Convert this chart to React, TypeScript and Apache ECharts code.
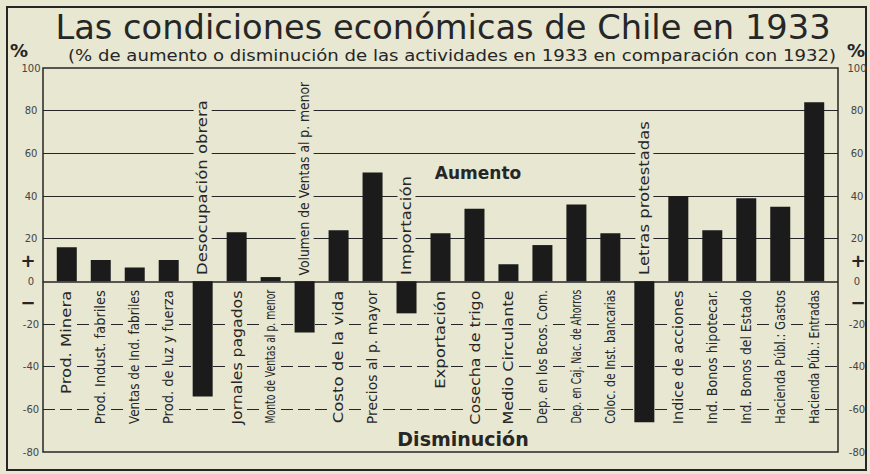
import React, { useEffect, useRef } from 'react';
import * as echarts from 'echarts';

const TITLE = 'Las condiciones económicas de Chile en 1933';
const SUBTITLE = '(% de aumento o disminución de las actividades en 1933 en comparación con 1932)';

const categories = [
  'Prod. Minera',
  'Prod. Indust. fabriles',
  'Ventas de Ind. fabriles',
  'Prod. de luz y fuerza',
  'Desocupación obrera',
  'Jornales pagados',
  'Monto de Ventas al p. menor',
  'Volumen de Ventas al p. menor',
  'Costo de la vida',
  'Precios al p. mayor',
  'Importación',
  'Exportación',
  'Cosecha de trigo',
  'Medio Circulante',
  'Dep. en los Bcos. Com.',
  'Dep. en Caj. Nac. de Ahorros',
  'Coloc. de Inst. bancarias',
  'Letras protestadas',
  'Indice de acciones',
  'Ind. Bonos hipotecar.',
  'Ind. Bonos del Estado',
  'Hacienda Públ.: Gastos',
  'Hacienda Púb.: Entradas',
];

const values = [16, 10, 6.5, 10, -54, 23, 2, -24, 24, 51, -15, 22.5, 34, 8, 17, 36, 22.5, -66, 40, 24, 39, 35, 84];

const gridLevels = [80, 60, 40, 20, 0, -20, -40, -60];
const signTicks: Record<number, string> = { 10: '+', [-10]: '−' };

const PAPER = '#e8e7d1';
const INK = '#262626';
const FONT = '"DejaVu Sans", "Noto Sans", sans-serif';

export default function App() {
  const ref = useRef<HTMLDivElement>(null);
  useEffect(() => {
    if (!ref.current) return;
    const chart = echarts.init(ref.current, null, { renderer: 'svg' });
    const ctx = document.createElement('canvas').getContext('2d')!;
    const measure = (text: string, font: string) => {
      ctx.font = font;
      return ctx.measureText(text).width || 1;
    };
    const labelSize = 13.5;
    const labelFont = `${labelSize}px ${FONT}`;
    const stretch = categories.map((c, i) => {
      const w = measure(c, labelFont);
      const max = values[i] >= 0 ? 134 : 194;
      return Math.min(1.22, max / w);
    });
    const titleFont = `33px ${FONT}`;
    const titleScale = 776 / measure(TITLE, titleFont);
    const subFont = `15px ${FONT}`;
    const subScale = 768 / measure(SUBTITLE, subFont);

    const axisCommon = {
      type: 'value' as const,
      min: -80,
      max: 100,
      axisLine: { show: false },
      axisTick: { show: false },
      splitLine: { show: false },
    };

    chart.setOption({
      animation: false,
      backgroundColor: PAPER,
      grid: {
        left: 43,
        right: 32,
        top: 68,
        bottom: 22,
        show: true,
        borderColor: INK,
        borderWidth: 1.5,
        backgroundColor: 'transparent',
      },
      xAxis: { type: 'value', min: -0.7, max: 22.7, show: false },
      yAxis: [
        {
          ...axisCommon,
          interval: 20,
          position: 'left',
          axisLabel: { margin: 12, align: 'center', fontSize: 10, color: '#444', fontFamily: FONT },
        },
        {
          ...axisCommon,
          interval: 20,
          position: 'right',
          axisLabel: { margin: 19, align: 'center', fontSize: 10, color: '#444', fontFamily: FONT },
        },
        {
          ...axisCommon,
          interval: 10,
          position: 'left',
          axisLabel: {
            margin: 15,
            align: 'center',
            fontSize: 18,
            fontWeight: 'bold',
            color: INK,
            fontFamily: FONT,
            formatter: (v: number) => signTicks[v] || '',
          },
        },
        {
          ...axisCommon,
          interval: 10,
          position: 'right',
          axisLabel: {
            margin: 20,
            align: 'center',
            fontSize: 18,
            fontWeight: 'bold',
            color: INK,
            fontFamily: FONT,
            formatter: (v: number) => signTicks[v] || '',
          },
        },
      ],
      graphic: [
        {
          type: 'rect',
          shape: { x: 7, y: 7, width: 859, height: 463 },
          style: { fill: 'none', stroke: INK, lineWidth: 2 },
          silent: true,
        },
        {
          type: 'text',
          x: 443,
          y: 28,
          scaleX: titleScale,
          style: { text: TITLE, font: titleFont, fill: INK, align: 'center', verticalAlign: 'middle' },
        },
        {
          type: 'text',
          x: 452,
          y: 56,
          scaleX: subScale,
          style: { text: SUBTITLE, font: subFont, fill: INK, align: 'center', verticalAlign: 'middle' },
        },
        {
          type: 'text',
          x: 19,
          y: 50,
          style: { text: '%', font: `bold 18px ${FONT}`, fill: INK, align: 'center', verticalAlign: 'middle' },
        },
        {
          type: 'text',
          x: 856,
          y: 50,
          style: { text: '%', font: `bold 18px ${FONT}`, fill: INK, align: 'center', verticalAlign: 'middle' },
        },
        {
          type: 'text',
          x: 478,
          y: 173,
          style: { text: 'Aumento', font: `bold 17px ${FONT}`, fill: INK, align: 'center', verticalAlign: 'middle' },
        },
        {
          type: 'text',
          x: 463,
          y: 439,
          z: 10,
          style: {
            text: 'Disminución',
            font: `bold 19px ${FONT}`,
            fill: INK,
            align: 'center',
            verticalAlign: 'middle',
            backgroundColor: PAPER,
            padding: [0, 2],
          },
        },
      ],
      series: [
        {
          type: 'bar',
          xAxisIndex: 0,
          yAxisIndex: 0,
          data: values.map((v, i) => [i, v]),
          barWidth: 20,
          itemStyle: { color: '#1b1b1b' },
          z: 2,
          markLine: {
            silent: true,
            symbol: 'none',
            z: 1,
            label: { show: false },
            data: gridLevels.map((g) => ({
              yAxis: g,
              lineStyle: {
                color: INK,
                width: g === 0 ? 1.6 : 1.1,
                type: g >= 0 ? 'solid' : [12, 5],
              },
            })),
          },
        },
        {
          type: 'custom',
          xAxisIndex: 0,
          yAxisIndex: 0,
          silent: true,
          z: 3,
          encode: { x: 0, y: 1 },
          data: values.map((v, i) => [i, v]),
          renderItem: (params: any, api: any) => {
            const i = api.value(0) as number;
            const v = api.value(1) as number;
            const p = api.coord([i, 0]);
            const up = v < 0;
            return {
              type: 'text',
              x: p[0],
              y: up ? p[1] - 4 : p[1] + 7,
              rotation: Math.PI / 2,
              scaleX: stretch[i],
              style: {
                text: categories[i],
                fontSize: labelSize,
                fontFamily: FONT,
                fill: INK,
                align: up ? 'left' : 'right',
                verticalAlign: 'middle',
                backgroundColor: PAPER,
                padding: [2, 2],
              },
            };
          },
        },
      ],
    });
    return () => chart.dispose();
  }, []);
  return <div ref={ref} style={{ position: 'fixed', left: 0, top: 0, width: 870, height: 474 }} />;
}
